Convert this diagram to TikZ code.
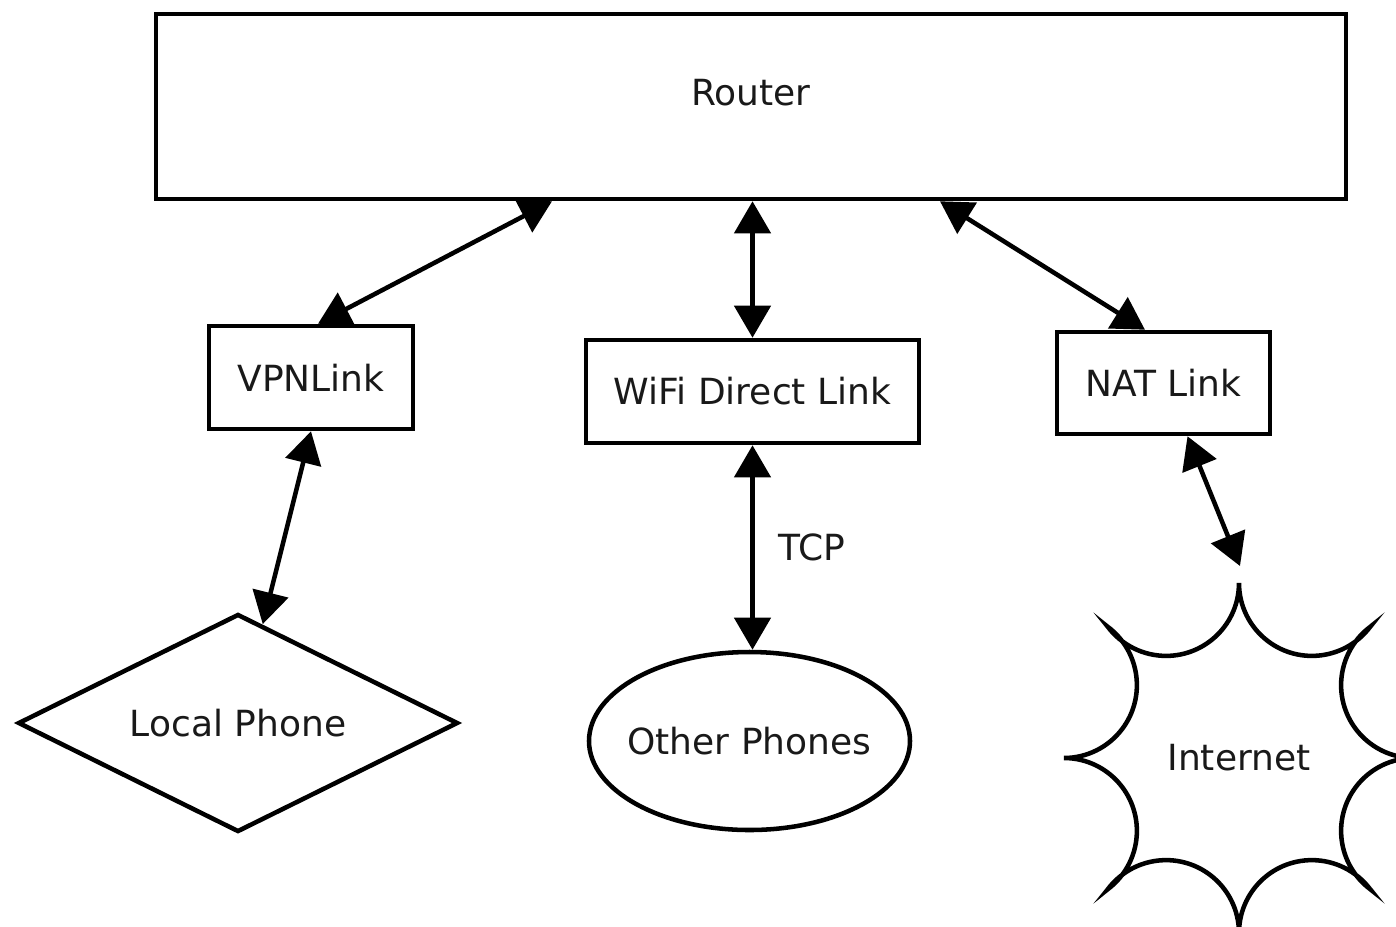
\documentclass[tikz,border=0pt]{standalone}
\usepackage{fontspec}
\setmainfont{DejaVu Sans}
\usetikzlibrary{arrows.meta,shapes.geometric,calc}
\begin{document}
\begin{tikzpicture}[
  x=0.75pt, y=-0.75pt,
  font=\fontsize{27}{32}\selectfont,
  every node/.style={text=black!90},
  box/.style={draw=black, line width=3.4pt, rectangle, inner sep=0pt},
  link/.style={line width=3.4pt, draw=black,
    {Triangle[length=24pt,width=27pt]}-{Triangle[length=24pt,width=27pt]}},
  outline/.style={line width=3.4pt, draw=black},
]
\useasboundingbox (0,0) rectangle (1396,926);
\clip (0,0) rectangle (1396,926);

% boxes
\node[box, minimum width=892.5pt, minimum height=138.75pt] (router) at (751,106.5) {};
\node at (751,93) {Router};
\node[box, minimum width=153pt, minimum height=77.25pt] (vpn) at (311,377.5) {VPNLink};
\node[box, minimum width=249.75pt, minimum height=77.25pt] (wifi) at (752.5,391.5) {WiFi Direct Link};
\node[box, minimum width=159.75pt, minimum height=76.5pt] (nat) at (1163.5,383) {NAT Link};

% endpoints
\node[diamond, aspect=2.02, draw=black, line width=3.4pt, inner sep=0pt,
      minimum width=330pt, minimum height=163.5pt] (phone) at (238,723) {Local Phone};
\node[ellipse, draw=black, line width=3.4pt, inner xsep=-10pt, inner ysep=0pt,
      minimum width=240.75pt, minimum height=133.5pt] (phones) at (749.5,741) {Other Phones};
\node[circle, inner sep=0pt, minimum size=262pt] (internet) at (1239,758) {Internet};

% burst outline of the internet cloud: eight concave circular arcs
\begin{scope}[shift={(internet.center)}, y=0.75pt]
  \draw[outline] (175,0)
    \foreach \p in {0,90,180,270} {
      arc[start angle=-90+\p, end angle=-232.9+\p, radius=72.9]
      arc[start angle=-37.1+\p, end angle=-180+\p, radius=72.9]
    } -- cycle;
\end{scope}

\coordinate (netgap) at (1240,566);

% connectors
\draw[link] ([xshift=-149.25pt]router.south) -- ([xshift=5.25pt]vpn.north);
\draw[link] (wifi.north |- router.south) -- (wifi.north);
\draw[link] ([xshift=141.75pt]router.south) -- ([xshift=-13.9pt]nat.north);
\draw[link] (vpn.south) -- (phone);
\draw[link] (wifi.south) -- (wifi.south |- phones.north)
  node[midway, anchor=west, inner sep=0pt, xshift=18pt] {TCP};
\draw[link] ([xshift=18pt]nat.south) -- (netgap);
\end{tikzpicture}
\end{document}
